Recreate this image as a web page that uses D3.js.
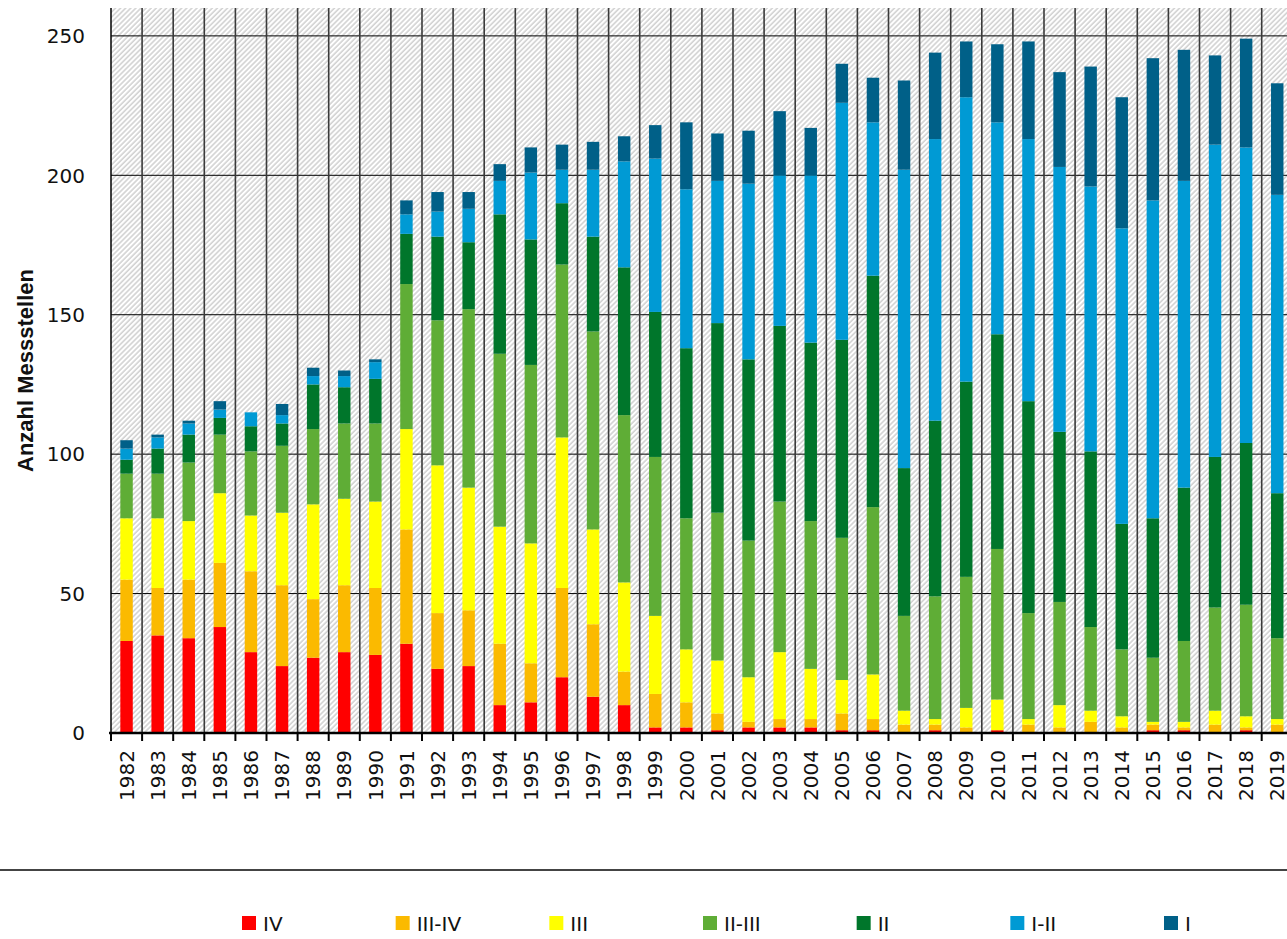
<!DOCTYPE html>
<html>
<head>
<meta charset="utf-8">
<script src="https://cdn.jsdelivr.net/npm/d3@7/dist/d3.min.js"></script>
<style>
  body { margin: 0; background: #fff; }
  svg { display: block; }
  text { font-family: "DejaVu Sans", Verdana, sans-serif; fill: #111; }
</style>
</head>
<body>
<div id="chart"></div>
<script>
// categories
const years = ['1982', '1983', '1984', '1985', '1986', '1987', '1988', '1989', '1990', '1991',
    '1992', '1993', '1994', '1995', '1996', '1997', '1998', '1999', '2000', '2001',
    '2002', '2003', '2004', '2005', '2006', '2007', '2008', '2009', '2010', '2011',
    '2012', '2013', '2014', '2015', '2016', '2017', '2018', '2019'];

// Anzahl Messstellen je Güteklasse
const klasseIV    = [33, 35, 34, 38, 29, 24, 27, 29, 28, 32, 23, 24, 10, 11, 20, 13, 10, 2, 2, 1, 2, 2, 2, 1, 1, 0, 1, 0, 1, 0, 0, 0, 0, 1, 1, 0, 1, 0];
const klasseIIIIV = [22, 17, 21, 23, 29, 29, 21, 24, 24, 41, 20, 20, 22, 14, 32, 26, 12, 12, 9, 6, 2, 3, 3, 6, 4, 3, 2, 2, 0, 3, 2, 4, 2, 2, 1, 3, 1, 3];
const klasseIII   = [22, 25, 21, 25, 20, 26, 34, 31, 31, 36, 53, 44, 42, 43, 54, 34, 32, 28, 19, 19, 16, 24, 18, 12, 16, 5, 2, 7, 11, 2, 8, 4, 4, 1, 2, 5, 4, 2];
const klasseIIIII = [16, 16, 21, 21, 23, 24, 27, 27, 28, 52, 52, 64, 62, 64, 62, 71, 60, 57, 47, 53, 49, 54, 53, 51, 60, 34, 44, 47, 54, 38, 37, 30, 24, 23, 29, 37, 40, 29];
const klasseII    = [5, 9, 10, 6, 9, 8, 16, 13, 16, 18, 30, 24, 50, 45, 22, 34, 53, 52, 61, 68, 65, 63, 64, 71, 83, 53, 63, 70, 77, 76, 61, 63, 45, 50, 55, 54, 58, 52];
const klasseIII_  = [4, 4, 4, 3, 5, 3, 3, 4, 6, 7, 9, 12, 12, 24, 12, 24, 38, 55, 57, 51, 63, 54, 60, 85, 55, 107, 101, 102, 76, 94, 95, 95, 106, 114, 110, 112, 106, 107];
const klasseI     = [3, 1, 1, 3, 0, 4, 3, 2, 1, 5, 7, 6, 6, 9, 9, 10, 9, 12, 24, 17, 19, 23, 17, 14, 16, 32, 31, 20, 28, 35, 34, 43, 47, 51, 47, 32, 39, 40];

const seriesNames = ['IV', 'III-IV', 'III', 'II-III', 'II', 'I-II', 'I'];
const seriesValues = [klasseIV, klasseIIIIV, klasseIII, klasseIIIII, klasseII, klasseIII_, klasseI];
const seriesColors = ['#ff0000', '#fbba00', '#ffff00', '#5fad36', '#00762b', '#009ad4', '#006088'];

const yTicks = [0, 50, 100, 150, 200, 250];

const width = 1287;
const height = 939;
const margin = { top: 8, left: 111, bottom: 206 };
const step = 31.1;

const rows = years.map((y, i) => {
    let row = { year: y };
    seriesNames.forEach((s, k) => { row[s] = seriesValues[k][i]; });
    return row;
});
const stacked = d3.stack().keys(seriesNames)(rows);

const x = d3.scaleBand()
    .domain(years)
    .range([margin.left, margin.left + step * years.length])
    .paddingInner(0.6)
    .paddingOuter(0.3);

const y = d3.scaleLinear()
    .domain([0, 260])
    .range([height - margin.bottom, margin.top]);

const svg = d3.select('#chart').append('svg')
    .attr('width', width)
    .attr('height', height);

// hatched plot background
const pat = svg.append('defs').append('pattern')
    .attr('id', 'hatch')
    .attr('patternUnits', 'userSpaceOnUse')
    .attr('width', 3.6)
    .attr('height', 3.6)
    .attr('patternTransform', 'rotate(45)');
pat.append('rect').attr('width', 3.6).attr('height', 3.6).attr('fill', '#fff');
pat.append('line')
    .attr('x1', 1).attr('x2', 1).attr('y1', 0).attr('y2', 3.6)
    .attr('stroke', '#d2d2d2')
    .attr('stroke-width', 1.6);

svg.append('rect')
    .attr('x', margin.left)
    .attr('y', margin.top)
    .attr('width', x.range()[1] - margin.left)
    .attr('height', y(0) - margin.top)
    .attr('fill', 'url(#hatch)');

// horizontal grid
svg.append('g')
    .selectAll('line')
    .data(yTicks.slice(1))
    .enter()
    .append('line')
    .attr('x1', margin.left)
    .attr('x2', width)
    .attr('y1', d => y(d))
    .attr('y2', d => y(d))
    .attr('stroke', '#000')
    .attr('stroke-width', 1);

// vertical separators between the years
const boundaries = years.slice(1).map(yr => x(yr) - x.step() * x.paddingInner() / 2);
svg.append('g')
    .selectAll('line')
    .data(boundaries)
    .enter()
    .append('line')
    .attr('x1', d => d)
    .attr('x2', d => d)
    .attr('y1', margin.top)
    .attr('y2', y(0))
    .attr('stroke', '#3a3a3a')
    .attr('stroke-width', 1.6);

// bars
svg.append('g')
    .selectAll('g')
    .data(stacked)
    .enter()
    .append('g')
    .attr('fill', (d, i) => seriesColors[i])
    .selectAll('rect')
    .data(d => d)
    .enter()
    .append('rect')
    .attr('x', d => x(d.data.year))
    .attr('width', x.bandwidth())
    .attr('y', d => y(d[1]))
    .attr('height', d => y(d[0]) - y(d[1]));

// y axis line
svg.append('line')
    .attr('x1', margin.left).attr('x2', margin.left)
    .attr('y1', margin.top).attr('y2', y(0) + 1)
    .attr('stroke', '#000')
    .attr('stroke-width', 1.5);

// x axis with ticks at the category boundaries
const xAxisG = svg.append('g');
xAxisG.append('line')
    .attr('x1', margin.left - 2)
    .attr('x2', width)
    .attr('y1', y(0))
    .attr('y2', y(0))
    .attr('stroke', '#000')
    .attr('stroke-width', 2.5);
xAxisG.selectAll('.tick')
    .data([margin.left].concat(boundaries))
    .enter()
    .append('line')
    .attr('x1', d => d)
    .attr('x2', d => d)
    .attr('y1', y(0))
    .attr('y2', y(0) + 8)
    .attr('stroke', '#000')
    .attr('stroke-width', 2);

xAxisG.selectAll('text')
    .data(years)
    .enter()
    .append('text')
    .attr('transform', d => `translate(${x(d) + x.bandwidth() / 2}, ${y(0) + 17}) rotate(-90)`)
    .attr('text-anchor', 'end')
    .attr('dy', '0.36em')
    .style('font-size', '20px')
    .text(d => d);

// y tick labels
svg.append('g')
    .selectAll('text')
    .data(yTicks)
    .enter()
    .append('text')
    .attr('x', margin.left - 26)
    .attr('y', d => y(d))
    .attr('dy', '0.36em')
    .attr('text-anchor', 'end')
    .style('font-size', '20px')
    .text(d => d);

// y axis title
svg.append('text')
    .attr('transform', `translate(33, ${(margin.top + y(0)) / 2}) rotate(-90)`)
    .attr('text-anchor', 'middle')
    .style('font-family', '"Liberation Sans", Arial, sans-serif')
    .style('font-weight', 'bold')
    .style('font-size', '22px')
    .text('Anzahl Messstellen');

// separator above legend
svg.append('line')
    .attr('x1', 0).attr('x2', width)
    .attr('y1', 870).attr('y2', 870)
    .attr('stroke', '#444')
    .attr('stroke-width', 2);

// legend
const lx = d3.scalePoint().domain(seriesNames).range([242, 1164]);
const legend = svg.append('g')
    .selectAll('g')
    .data(seriesNames)
    .enter()
    .append('g')
    .attr('transform', d => `translate(${lx(d)}, 916)`);
legend.append('rect')
    .attr('width', 14)
    .attr('height', 14)
    .attr('fill', (d, i) => seriesColors[i]);
legend.append('text')
    .attr('x', 21)
    .attr('y', 15)
    .style('font-size', '20px')
    .text(d => d);
</script>
</body>
</html>
